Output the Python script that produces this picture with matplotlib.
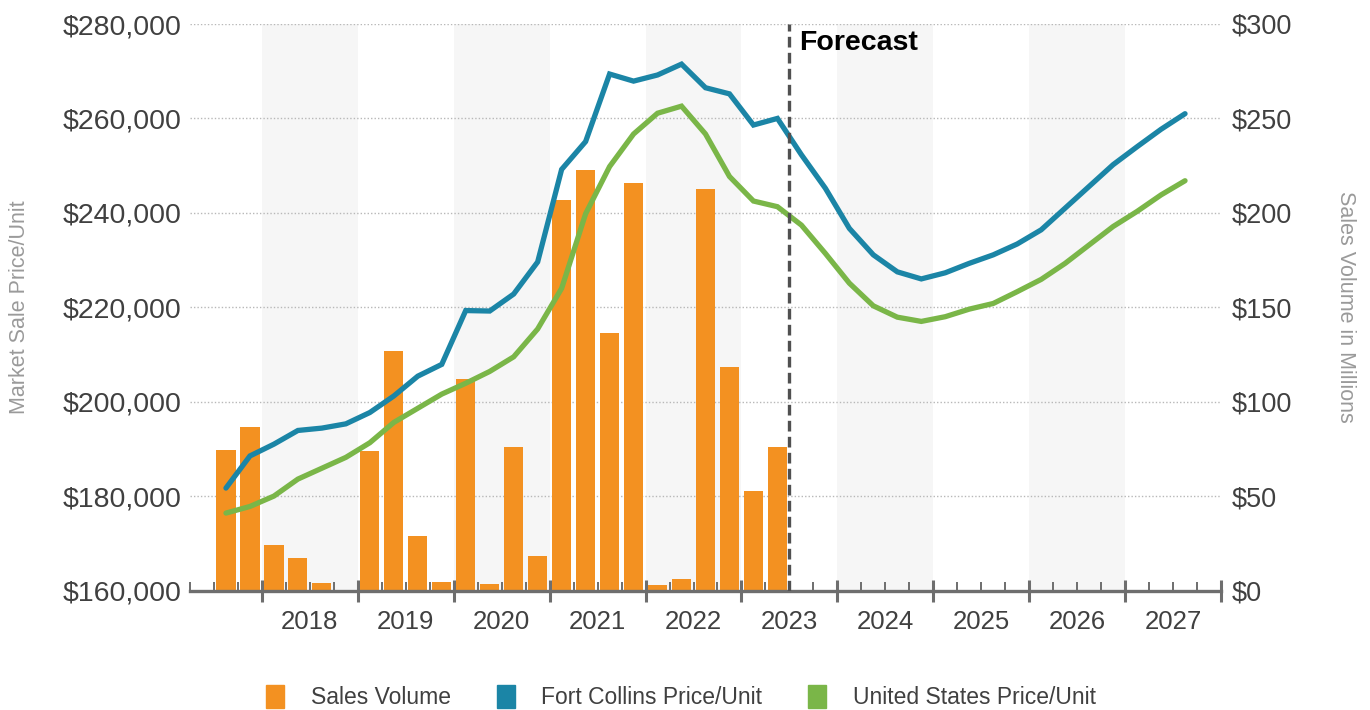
import matplotlib
matplotlib.use("Agg")
import matplotlib.pyplot as plt
from matplotlib.patches import Patch
from matplotlib.ticker import FixedLocator, FuncFormatter
import matplotlib.transforms as mtransforms

plt.rcParams["font.family"] = ["Liberation Sans", "DejaVu Sans"]

# quarters 2017Q3 .. 2027Q3
quarters = [f"{y}Q{q}" for y in range(2017, 2028) for q in range(1, 5)][2:-1]

# market sale price per unit, thousands of dollars
fort_collins = [181.7, 188.5,
                191.0, 193.9, 194.4, 195.3,
                197.7, 201.2, 205.4, 207.9,
                219.3, 219.2, 222.8, 229.6,
                249.2, 255.1, 269.4, 267.9,
                269.2, 271.5, 266.5, 265.2,
                258.6, 260.0, 252.3, 245.2,
                236.7, 231.1, 227.5, 226.0,
                227.3, 229.3, 231.1, 233.4,
                236.4, 241.0, 245.6, 250.2,
                254.0, 257.7, 261.0]
united_states = [176.4, 177.8,
                 180.0, 183.6, 185.9, 188.2,
                 191.3, 195.6, 198.6, 201.6,
                 203.9, 206.4, 209.5, 215.4,
                 224.0, 239.8, 249.8, 256.7,
                 261.1, 262.6, 256.7, 247.7,
                 242.5, 241.3, 237.4, 231.4,
                 225.1, 220.3, 217.9, 217.0,
                 218.0, 219.6, 220.8, 223.3,
                 225.9, 229.3, 233.2, 237.1,
                 240.3, 243.8, 246.8]

# sales volume, millions of dollars (2017Q3 .. 2023Q2)
sales_volume = [74.4, 86.6,
                24.3, 17.0, 4.0, 0.0,
                74.0, 127.0, 28.7, 4.7,
                112.0, 3.3, 75.8, 18.4,
                206.8, 222.7, 136.5, 215.7,
                2.9, 5.9, 212.8, 118.2,
                52.7, 75.8]

years = list(range(2018, 2028))
forecast_start = 2023.5

ORANGE = "#F39121"
BLUE = "#1B85A6"
GREEN = "#7AB648"
TEXT = "#404040"
AXIS = "#6e6e6e"


def qpos(label):
    y, q = label.split("Q")
    return int(y) + (int(q) - 0.5) / 4


x = [qpos(q) for q in quarters]
xb = x[:len(sales_volume)]

fig = plt.figure(figsize=(13.7, 7.1), dpi=100)
ax = fig.add_axes([190 / 1370, (710 - 590.5) / 710, (1221 - 190) / 1370, 566.5 / 710])
ax2 = ax.twinx()

# alternating year bands
for y in years[::2]:
    ax.axvspan(y, y + 1, color="#f6f6f6", zorder=0, lw=0)

ax.bar(xb, sales_volume, width=0.2, color=ORANGE, zorder=2)
ax.set_ylim(0, 300)
ax.set_xlim(2017.25, 2028)
ax.set_yticks(range(0, 301, 50))
ax.yaxis.set_major_formatter(FuncFormatter(lambda v, p: f"${v:,.0f}"))
ax.yaxis.tick_right()
ax.set_axisbelow(True)
ax.grid(axis="y", color="#b8b8b8", linestyle=(0, (1, 1.5)), lw=1.0)

ax2.plot(x, fort_collins, color=BLUE, lw=3.8, solid_capstyle="round", solid_joinstyle="miter", zorder=3)
ax2.plot(x, united_states, color=GREEN, lw=3.8, solid_capstyle="round", solid_joinstyle="miter", zorder=3)
ax2.set_ylim(160, 280)
ax2.set_yticks(range(160, 281, 20))
ax2.yaxis.set_major_formatter(FuncFormatter(lambda v, p: f"${v * 1000:,.0f}"))
ax2.yaxis.tick_left()
ax2.axvline(forecast_start, color="#505050", lw=2.4, linestyle=(0, (3.2, 1.6)), zorder=4)
ax2.text(forecast_start + 0.1, 276.0, "Forecast", fontsize=20.5, fontweight="bold",
         color="black", va="center", ha="left")

for a in (ax, ax2):
    for side in ("top", "left", "right"):
        a.spines[side].set_visible(False)
    a.tick_params(axis="y", length=0, labelsize=19.5, colors=TEXT)
ax2.tick_params(axis="y", labelsize=20.5, pad=6)
ax.tick_params(axis="y", pad=8)
ax2.spines["bottom"].set_visible(False)
ax.spines["bottom"].set_color(AXIS)
ax.spines["bottom"].set_linewidth(2.4)

ax.xaxis.set_major_locator(FixedLocator(years + [2028]))
ax.xaxis.set_minor_locator(FixedLocator([2017.25 + 0.25 * i for i in range(44)]))
ax.tick_params(axis="x", which="major", direction="inout", length=16, width=2.2,
               color=AXIS, labelbottom=False)
ax.tick_params(axis="x", which="minor", direction="in", length=6.5, width=1.4, color=AXIS)

trans = mtransforms.blended_transform_factory(ax.transData, ax.transAxes)
for y in years:
    ax.text(y + 0.5, -0.034, str(y), transform=trans, ha="center", va="top",
            fontsize=18.5, color=TEXT)

fig.text(20 / 1370, 1 - 307 / 710, "Market Sale Price/Unit", rotation=90,
         ha="center", va="center", fontsize=15.5, color="#9a9a9a")
fig.text(1346 / 1370, 1 - 307 / 710, "Sales Volume in Millions", rotation=270,
         ha="center", va="center", fontsize=15.5, color="#9a9a9a")

handles = [Patch(color=ORANGE, label="Sales Volume"),
           Patch(color=BLUE, label="Fort Collins Price/Unit"),
           Patch(color=GREEN, label="United States Price/Unit")]
leg = fig.legend(handles=handles, loc="center", bbox_to_anchor=(0.497, 1 - 697 / 710),
                 ncol=3, frameon=False, fontsize=16.5, handlelength=0.8, handleheight=1.15,
                 handletextpad=1.15, columnspacing=2.0)
for t in leg.get_texts():
    t.set_color(TEXT)

fig.savefig("out.png", dpi=100)
